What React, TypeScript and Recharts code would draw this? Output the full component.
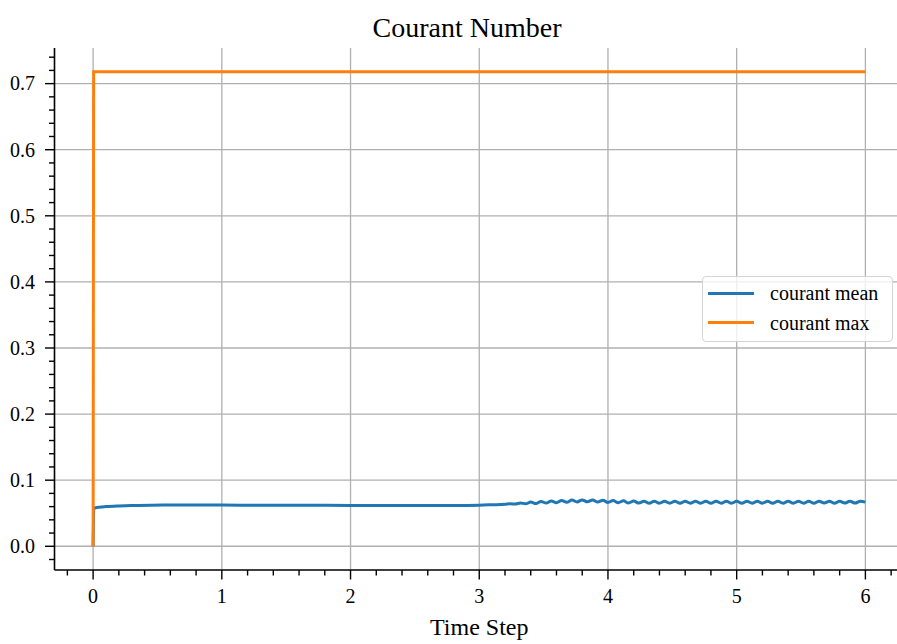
import React from "react";
import { LineChart, Line, XAxis, YAxis, CartesianGrid, Label } from "recharts";

// time step values for the mean courant number
const meanT = [
  0, 0.005, 0.05, 0.1, 0.2, 0.3, 0.45, 0.6, 0.8, 1.0, 1.3, 1.6, 2.0, 2.4, 2.8, 3.0, 3.1, 3.2,
  3.24, 3.28, 3.32, 3.36, 3.4, 3.44, 3.48, 3.52, 3.56, 3.6,
  3.64, 3.68, 3.72, 3.76, 3.8, 3.84, 3.88, 3.92, 3.96, 4.0,
  4.04, 4.08, 4.12, 4.16, 4.2, 4.24, 4.28, 4.32, 4.36, 4.4,
  4.44, 4.48, 4.52, 4.56, 4.6, 4.64, 4.68, 4.72, 4.76, 4.8,
  4.84, 4.88, 4.92, 4.96, 5.0, 5.04, 5.08, 5.12, 5.16, 5.2,
  5.24, 5.28, 5.32, 5.36, 5.4, 5.44, 5.48, 5.52, 5.56, 5.6,
  5.64, 5.68, 5.72, 5.76, 5.8, 5.84, 5.88, 5.92, 5.96, 6.0,
];
const meanV = [
  0, 0.0575, 0.0592, 0.06, 0.061, 0.0617, 0.0622, 0.0624, 0.0624, 0.0623, 0.0622, 0.062, 0.0618,
  0.0617, 0.0618, 0.0622, 0.0628, 0.0635,
  0.0643, 0.0638, 0.0655, 0.0642, 0.0668, 0.0646, 0.0679, 0.0653, 0.0686, 0.066,
  0.0693, 0.0666, 0.0699, 0.0671, 0.0702, 0.0672, 0.0701, 0.0669, 0.0696, 0.0663,
  0.0691, 0.0659, 0.0687, 0.0655, 0.0684, 0.0653, 0.0682, 0.0652, 0.0682, 0.0652,
  0.0681, 0.0652, 0.0681, 0.0651, 0.0681, 0.0652, 0.0682, 0.0652, 0.0681, 0.0651,
  0.0681, 0.0652, 0.0682, 0.0652, 0.0681, 0.0651, 0.0681, 0.0652, 0.0682, 0.0652,
  0.0681, 0.0651, 0.0681, 0.0652, 0.0682, 0.0652, 0.0681, 0.0652, 0.0682, 0.0652,
  0.0682, 0.0653, 0.0682, 0.0652, 0.0682, 0.0653, 0.0683, 0.0653, 0.0683, 0.0668,
];

// max courant number
const maxT = [0, 0.004, 6.0];
const maxV = [0, 0.718, 0.718];

const xMajor = [0, 1, 2, 3, 4, 5, 6];
const xTicks = [
  -0.2, 0, 0.2, 0.4, 0.6, 0.8, 1, 1.2, 1.4, 1.6, 1.8, 2, 2.2, 2.4, 2.6, 2.8, 3, 3.2, 3.4, 3.6,
  3.8, 4, 4.2, 4.4, 4.6, 4.8, 5, 5.2, 5.4, 5.6, 5.8, 6, 6.2,
];
const yMajor = [0, 0.1, 0.2, 0.3, 0.4, 0.5, 0.6, 0.7];
const yTicks = [
  -0.02, 0, 0.02, 0.04, 0.06, 0.08, 0.1, 0.12, 0.14, 0.16, 0.18, 0.2, 0.22, 0.24, 0.26, 0.28,
  0.3, 0.32, 0.34, 0.36, 0.38, 0.4, 0.42, 0.44, 0.46, 0.48, 0.5, 0.52, 0.54, 0.56, 0.58, 0.6,
  0.62, 0.64, 0.66, 0.68, 0.7, 0.72, 0.74,
];

const series = [
  { name: "courant mean", color: "#1f77b4" },
  { name: "courant max", color: "#ff7f0e" },
];

const meanData = meanT.map((t, i) => ({ t, v: meanV[i] }));
const maxData = maxT.map((t, i) => ({ t, v: maxV[i] }));

const FONT = "'Liberation Serif', 'Times New Roman', serif";

const isMajor = (v: number, k: number) => Math.abs(v * k - Math.round(v * k)) < 1e-6;

const XTick = (props: any) => {
  const { x, y, payload } = props;
  const major = isMajor(payload.value, 1);
  return (
    <g>
      <line x1={x} x2={x} y1={y} y2={y + (major ? 9.5 : 5.5)} stroke="#000" strokeWidth={1.4} />
      {major && (
        <text x={x} y={y + 19} dy="0.71em" textAnchor="middle" style={{ fontFamily: FONT, fontSize: 20 }} fill="#000">
          {String(Math.round(payload.value))}
        </text>
      )}
    </g>
  );
};

const YTick = (props: any) => {
  const { x, y, payload } = props;
  const major = isMajor(payload.value, 10);
  return (
    <g>
      <line x1={x} x2={x - (major ? 9.5 : 5.5)} y1={y} y2={y} stroke="#000" strokeWidth={1.4} />
      {major && (
        <text x={x - 19.5} y={y} dy="0.34em" textAnchor="end" style={{ fontFamily: FONT, fontSize: 20 }} fill="#000">
          {payload.value.toFixed(1)}
        </text>
      )}
    </g>
  );
};

export default function App() {
  return (
    <div style={{ position: "absolute", left: 0, top: 0, width: 897, height: 644, overflow: "hidden", background: "#fff" }}>
      <div
        style={{
          position: "absolute",
          left: 0,
          top: 13.6,
          width: 934,
          textAlign: "center",
          fontFamily: FONT,
          fontSize: 28,
          lineHeight: 1,
          color: "#000",
          whiteSpace: "nowrap",
        }}
      >
        Courant Number
      </div>
      <LineChart width={906} height={644} margin={{ top: 48, right: 2, bottom: 0, left: 0 }}>
        <CartesianGrid
          horizontalValues={yMajor}
          verticalValues={xMajor}
          stroke="#b0b0b0"
          strokeWidth={1.3}
        />
        <XAxis
          dataKey="t"
          type="number"
          domain={[-0.3, 6.3]}
          allowDataOverflow
          ticks={xTicks}
          interval={0}
          tick={<XTick />}
          tickLine={false}
          tickSize={0}
          tickMargin={0}
          height={74}
          axisLine={{ stroke: "#000", strokeWidth: 1.6 }}
        >
          <Label
            content={(p: any) => {
              const vb = p.viewBox || { x: 54.5, y: 570, width: 849.5 };
              return (
                <text x={vb.x + vb.width / 2} y={635} textAnchor="middle" style={{ fontFamily: FONT, fontSize: 24 }} fill="#000">
                  Time Step
                </text>
              );
            }}
          />
        </XAxis>
        <XAxis
          xAxisId="top"
          orientation="top"
          dataKey="t"
          type="number"
          domain={[-0.3, 6.3]}
          allowDataOverflow
          height={0}
          tick={false}
          tickLine={false}
          axisLine={{ stroke: "#000", strokeWidth: 1.6 }}
        />
        <YAxis
          type="number"
          domain={[-0.0359, 0.7539]}
          allowDataOverflow
          ticks={yTicks}
          interval={0}
          tick={<YTick />}
          tickLine={false}
          tickSize={0}
          tickMargin={0}
          width={54.5}
          axisLine={{ stroke: "#000", strokeWidth: 1.6 }}
        />
        <Line
          data={meanData}
          dataKey="v"
          name={series[0].name}
          type="monotone"
          stroke={series[0].color}
          strokeWidth={3}
          dot={false}
          activeDot={false}
          isAnimationActive={false}
        />
        <Line
          data={maxData}
          dataKey="v"
          name={series[1].name}
          type="linear"
          stroke={series[1].color}
          strokeWidth={3}
          dot={false}
          activeDot={false}
          isAnimationActive={false}
        />
      </LineChart>
      <div
        style={{
          position: "absolute",
          left: 702,
          top: 276,
          width: 191,
          height: 66,
          boxSizing: "border-box",
          border: "1.5px solid #d4d4d4",
          borderRadius: 4,
          background: "rgba(255,255,255,0.8)",
          fontFamily: FONT,
        }}
      >
        {series.map((s, i) => (
          <div
            key={s.name}
            style={{ position: "absolute", left: 0, top: 1 + i * 29.7, height: 30, display: "flex", alignItems: "center" }}
          >
            <span style={{ display: "inline-block", width: 46, height: 3, marginLeft: 5, background: s.color }} />
            <span style={{ marginLeft: 16, fontSize: 20, lineHeight: 1, whiteSpace: "nowrap", color: "#000" }}>{s.name}</span>
          </div>
        ))}
      </div>
    </div>
  );
}
